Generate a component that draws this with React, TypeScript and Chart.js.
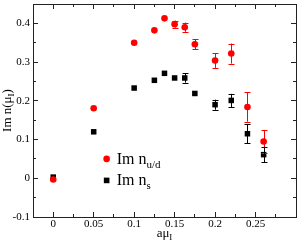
import React, { useEffect, useRef } from "react";
import { Chart, registerables } from "chart.js";

Chart.register(...registerables);

const xUD = [0, 0.05, 0.1, 0.125, 0.1375, 0.15, 0.1625, 0.175, 0.2, 0.22, 0.24, 0.26];
const imNud = [-0.003, 0.181, 0.35, 0.382, 0.413, 0.398, 0.39, 0.346, 0.304, 0.322, 0.184, 0.095];
const errNud = [0.003, 0.004, 0.004, 0.006, 0.005, 0.009, 0.012, 0.013, 0.019, 0.026, 0.038, 0.03];
const xS = [0, 0.05, 0.1, 0.125, 0.1375, 0.15, 0.1625, 0.175, 0.2, 0.22, 0.24, 0.26];
const imNs = [0.003, 0.12, 0.233, 0.253, 0.271, 0.259, 0.259, 0.219, 0.19, 0.201, 0.115, 0.061];
const errNs = [0.002, 0.003, 0.003, 0.004, 0.004, 0.005, 0.012, 0.006, 0.013, 0.017, 0.025, 0.02];
const xTicks = [0, 0.05, 0.1, 0.15, 0.2, 0.25];
const xMinorTicks = [0.025, 0.075, 0.125, 0.175, 0.225, 0.275];
const yTicks = [-0.1, 0, 0.1, 0.2, 0.3, 0.4];
const yMinorTicks = [-0.05, 0.05, 0.15, 0.25, 0.35, 0.45];

const SERIF = "'Liberation Serif', 'DejaVu Serif', serif";
const FRAME = "#222222";

const errorBars = {
  id: "errorBars",
  afterDatasetsDraw(chart: any) {
    const { ctx, scales } = chart;
    const xs = scales.x, ys = scales.y;
    const sets = [
      { x: xUD, y: imNud, e: errNud, c: "#ff0000" },
      { x: xS, y: imNs, e: errNs, c: "#000000" },
    ];
    ctx.save();
    ctx.lineWidth = 1;
    for (const s of sets) {
      ctx.strokeStyle = s.c;
      s.x.forEach((xv, i) => {
        const px = Math.round(xs.getPixelForValue(xv)) + 0.5;
        const top = ys.getPixelForValue(s.y[i] + s.e[i]);
        const bot = ys.getPixelForValue(s.y[i] - s.e[i]);
        if (bot - top < 6) return;
        ctx.beginPath();
        ctx.moveTo(px, top);
        ctx.lineTo(px, bot);
        ctx.moveTo(px - 3, Math.round(top) + 0.5);
        ctx.lineTo(px + 3, Math.round(top) + 0.5);
        ctx.moveTo(px - 3, Math.round(bot) + 0.5);
        ctx.lineTo(px + 3, Math.round(bot) + 0.5);
        ctx.stroke();
      });
    }
    ctx.restore();
  },
};

const titles = {
  id: "titles",
  afterDraw(chart: any) {
    const { ctx, chartArea: a, scales } = chart;
    const xs = scales.x, ys = scales.y;
    ctx.save();
    ctx.fillStyle = "#000";
    ctx.textBaseline = "alphabetic";
    const cx = (a.left + a.right) / 2;
    ctx.font = `13px ${SERIF}`;
    const w1 = ctx.measureText("aμ").width;
    ctx.font = `9px ${SERIF}`;
    const w2 = ctx.measureText("I").width;
    const sx = cx - (w1 + w2) / 2;
    ctx.font = `13px ${SERIF}`;
    ctx.fillText("aμ", sx, 237);
    ctx.font = `9px ${SERIF}`;
    ctx.fillText("I", sx + w1, 240);

    ctx.save();
    ctx.translate(11, (a.top + a.bottom) / 2);
    ctx.rotate(-Math.PI / 2);
    ctx.font = `13px ${SERIF}`;
    const p1 = "Im n(μ";
    const t1 = ctx.measureText(p1).width;
    ctx.font = `9px ${SERIF}`;
    const t2 = ctx.measureText("I").width;
    ctx.font = `13px ${SERIF}`;
    const t3 = ctx.measureText(")").width;
    const ox = -(t1 + t2 + t3) / 2;
    ctx.fillText(p1, ox, 0);
    ctx.font = `9px ${SERIF}`;
    ctx.fillText("I", ox + t1, 3);
    ctx.font = `13px ${SERIF}`;
    ctx.fillText(")", ox + t1 + t2, 0);
    ctx.restore();

    const lx = xs.getPixelForValue(0.066);
    const ly1 = ys.getPixelForValue(0.05);
    const ly2 = ly1 + 21.5;
    ctx.fillStyle = "#ff0000";
    ctx.beginPath();
    ctx.arc(lx, ly1, 3.3, 0, Math.PI * 2);
    ctx.fill();
    ctx.fillStyle = "#000";
    ctx.fillRect(lx - 2.8, ly2 - 2.8, 5.6, 5.6);
    ctx.font = `16px ${SERIF}`;
    const tx = lx + 10;
    ctx.fillText("Im n", tx, ly1 + 5);
    const wl = ctx.measureText("Im n").width;
    ctx.fillText("Im n", tx, ly2 + 5);
    ctx.font = `11px ${SERIF}`;
    ctx.fillText("u/d", tx + wl, ly1 + 9);
    ctx.fillText("s", tx + wl, ly2 + 9);
    ctx.restore();
  },
};

function tickAxis(axis: "x" | "y", position: string, values: number[], len: number, border: boolean, size: number, labels: boolean, padding: number) {
  const isX = axis === "x";
  return {
    type: "linear",
    axis,
    position,
    min: isX ? -0.025 : -0.1,
    max: isX ? 0.3 : 0.45,
    weight: border ? 0 : -1,
    grid: {
      display: true,
      drawOnChartArea: false,
      drawTicks: true,
      tickLength: -len,
      color: FRAME,
      lineWidth: 1,
    },
    border: { display: border, color: FRAME, width: 1 },
    afterFit: (s: any) => {
      if (isX) s.height = size; else s.width = size;
      s.paddingLeft = 0;
      s.paddingRight = 0;
      s.paddingTop = 0;
      s.paddingBottom = 0;
    },
    afterBuildTicks: (s: any) => { s.ticks = values.map((v) => ({ value: v })); },
    ticks: {
      display: labels,
      padding,
      color: "#000",
      font: { family: SERIF, size: 11 },
      callback: (v: any) => String(Math.round(Number(v) * 1000) / 1000),
    },
  };
}

export default function App() {
  const ref = useRef<HTMLCanvasElement>(null);
  useEffect(() => {
    document.body.style.margin = "0";
    const chart = new Chart(ref.current!, {
      type: "scatter",
      data: {
        datasets: [
          {
            label: "Im n_u/d",
            data: xUD.map((x, i) => ({ x, y: imNud[i] })),
            xAxisID: "x",
            yAxisID: "y",
            backgroundColor: "#ff0000",
            borderColor: "#ff0000",
            pointStyle: "circle",
            pointRadius: 3.3,
            borderWidth: 0,
          },
          {
            label: "Im n_s",
            data: xS.map((x, i) => ({ x, y: imNs[i] })),
            xAxisID: "x",
            yAxisID: "y",
            backgroundColor: "#000000",
            borderColor: "#000000",
            pointStyle: "rect",
            pointRadius: 3.9,
            borderWidth: 0,
          },
        ],
      },
      options: {
        animation: false,
        responsive: false,
        layout: { padding: { top: 1, right: 0, left: 0, bottom: 0 } },
        plugins: { legend: { display: false }, tooltip: { enabled: false } },
        scales: {
          x: tickAxis("x", "bottom", xTicks, 5, true, 28, true, 6) as any,
          xm: tickAxis("x", "bottom", xMinorTicks, 3, false, 0, false, 0) as any,
          x2: tickAxis("x", "top", xTicks, 5, true, 0, false, 0) as any,
          x2m: tickAxis("x", "top", xMinorTicks, 3, false, 0, false, 0) as any,
          y: tickAxis("y", "left", yTicks, 5, true, 33, true, 8) as any,
          ym: tickAxis("y", "left", yMinorTicks, 3, false, 0, false, 0) as any,
          y2: tickAxis("y", "right", yTicks, 5, true, 0, false, 0) as any,
          y2m: tickAxis("y", "right", yMinorTicks, 3, false, 0, false, 0) as any,
        },
      },
      plugins: [errorBars, titles],
    });
    return () => chart.destroy();
  }, []);
  return (
    <div style={{ position: "absolute", left: 0, top: 0, width: 300, height: 245 }}>
      <canvas ref={ref} width={300} height={245} style={{ display: "block" }} />
    </div>
  );
}
